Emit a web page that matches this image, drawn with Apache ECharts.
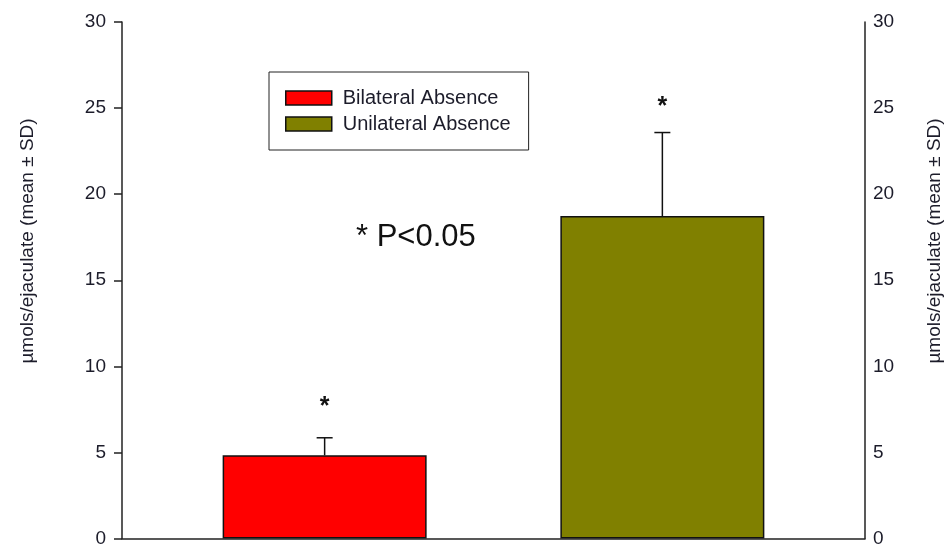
<!DOCTYPE html>
<html>
<head>
<meta charset="utf-8">
<style>
  html, body { margin: 0; padding: 0; background: #fff; }
  #chart { width: 949px; height: 548px; }
</style>
<script src="https://cdn.jsdelivr.net/npm/echarts@6/dist/echarts.min.js"></script>
</head>
<body>
<div id="chart"></div>
<script>
// Groups and their measurements (µmols/ejaculate)
const groups = ['Bilateral Absence', 'Unilateral Absence'];
const groupX = [1, 2];
const means = [4.83, 18.73];
const sds = [1.02, 4.85];
const starLevels = [8.0, 25.4];
const barColors = ['#ff0000', '#808000'];
const yTicks = [0, 5, 10, 15, 20, 25, 30];
const axisTitle = 'µmols/ejaculate (mean ± SD)';
const noteText = '* P<0.05';

const FONT = 'Liberation Sans, Arial, sans-serif';
const TXT = '#1c1c2a';

const chart = echarts.init(document.getElementById('chart'));

const barSeries = groups.map((name, i) => ({
  name: name,
  type: 'bar',
  xAxisIndex: 0,
  yAxisIndex: 0,
  barWidth: 204,
  barGap: '-100%',
  data: [[groupX[i], means[i]]],
  itemStyle: { color: barColors[i], borderColor: '#111', borderWidth: 1.5 },
  z: 2
}));

const errorSeries = {
  type: 'custom',
  xAxisIndex: 0,
  yAxisIndex: 0,
  data: groupX.map((x, i) => [x, means[i], means[i] + sds[i], starLevels[i]]),
  encode: { x: 0, y: 1 },
  z: 3,
  renderItem: function (params, api) {
    const x = api.value(0);
    const base = api.coord([x, api.value(1)]);
    const top = api.coord([x, api.value(2)]);
    const star = api.coord([x, api.value(3)]);
    const half = 8;
    const st = { stroke: '#111', lineWidth: 1.5, fill: null };
    return {
      type: 'group',
      children: [
        { type: 'line', shape: { x1: base[0], y1: base[1], x2: top[0], y2: top[1] }, style: st },
        { type: 'line', shape: { x1: top[0] - half, y1: top[1], x2: top[0] + half, y2: top[1] }, style: st },
        {
          type: 'text',
          x: star[0], y: star[1] + 6,
          style: { text: '*', fill: '#111', font: 'bold 25px ' + FONT, textAlign: 'center', textVerticalAlign: 'middle' }
        }
      ]
    };
  }
};

chart.setOption({
  animation: false,
  backgroundColor: '#ffffff',
  grid: { left: 122, right: 84, top: 22, bottom: 6, containLabel: false },
  legend: {
    data: groups,
    orient: 'vertical',
    left: 269,
    top: 72,
    padding: [16, 18, 16, 16],
    itemGap: 6,
    itemWidth: 46,
    itemHeight: 14,
    icon: 'rect',
    borderColor: '#222',
    borderWidth: 1,
    backgroundColor: '#fff',
    itemStyle: { borderColor: '#111', borderWidth: 1.5 },
    textStyle: { fontFamily: FONT, fontSize: 20, color: TXT, padding: [0, 0, 0, 6] },
    selectedMode: false
  },
  xAxis: {
    type: 'value',
    min: 0.4,
    max: 2.6,
    axisLine: { show: true, lineStyle: { color: '#222', width: 1.5 } },
    axisTick: { show: false },
    axisLabel: { show: false },
    splitLine: { show: false }
  },
  yAxis: [
    {
      type: 'value',
      position: 'left',
      min: yTicks[0],
      max: yTicks[yTicks.length - 1],
      interval: 5,
      axisLine: { show: true, lineStyle: { color: '#222', width: 1.5 } },
      axisTick: { show: true, inside: false, length: 8, lineStyle: { color: '#222', width: 1.5 } },
      axisLabel: { margin: 16, fontFamily: FONT, fontSize: 19, color: TXT },
      splitLine: { show: false }
    },
    {
      type: 'value',
      position: 'right',
      min: yTicks[0],
      max: yTicks[yTicks.length - 1],
      interval: 5,
      axisLine: { show: true, lineStyle: { color: '#222', width: 1.5 } },
      axisTick: { show: false },
      axisLabel: { margin: 8, fontFamily: FONT, fontSize: 19, color: TXT },
      splitLine: { show: false }
    }
  ],
  graphic: [
    {
      type: 'text', x: 28, y: 241, rotation: Math.PI / 2,
      style: { text: axisTitle, font: '19px ' + FONT, fill: TXT, textAlign: 'center', textVerticalAlign: 'middle' }
    },
    {
      type: 'text', x: 935, y: 241, rotation: Math.PI / 2,
      style: { text: axisTitle, font: '19px ' + FONT, fill: TXT, textAlign: 'center', textVerticalAlign: 'middle' }
    },
    {
      type: 'text', x: 356, y: 237,
      style: { text: noteText, font: '31px ' + FONT, fill: '#111', textAlign: 'left', textVerticalAlign: 'middle' }
    }
  ],
  series: barSeries.concat([errorSeries])
});
</script>
</body>
</html>
